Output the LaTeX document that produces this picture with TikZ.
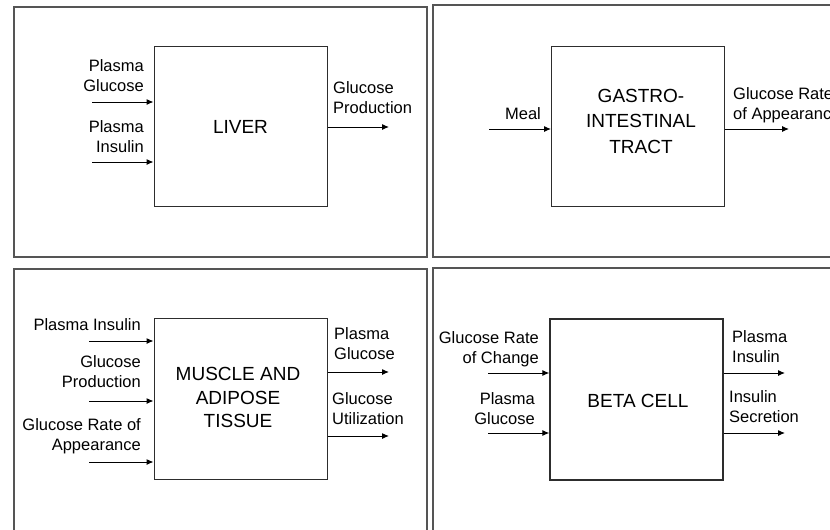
\documentclass[tikz,border=0pt]{standalone}
\usepackage{fontspec}
\setmainfont{Liberation Sans}
\usetikzlibrary{arrows.meta,positioning}
\definecolor{FrameGray}{RGB}{85,85,85}
\definecolor{BoxGray}{RGB}{45,45,45}

\begin{document}
\begin{tikzpicture}[x=1pt,y=-1pt,>={Latex[length=7pt,width=6pt]},
  frm/.style={draw=FrameGray,line width=1.5pt},
  blk/.style={draw=BoxGray,line width=1pt,minimum width=173pt,minimum height=160pt,
    inner sep=0pt,align=center,font=\fontsize{19}{23}\selectfont},
  lbl/.style={inner sep=0pt,font=\fontsize{16.5}{20}\selectfont},
  sig/.style={->,line width=1pt}]
  \useasboundingbox (0,0) rectangle (830,530);
  \clip (0,0) rectangle (830,530);
  % the four panels
  \draw[frm] (14,7) rectangle (427,257);
  \draw[frm] (433,5) rectangle (845,257);
  \draw[frm] (14,269) rectangle (427,545);
  \draw[frm] (433,268) rectangle (845,545);

  % liver
  \node[blk] (liver) at (240.5,126.5) {LIVER};
  \coordinate (lvA) at (92,102);
  \coordinate (lvB) at (92,162);
  \coordinate (lvOut) at (389,127);
  \foreach \c in {lvA,lvB}{\draw[sig] (\c) -- (\c -| liver.west);}
  \draw[sig] (lvOut -| liver.east) -- (lvOut);
  \node[lbl,align=right,anchor=east] (lvGlu) at (144,75.5) {Plasma\\Glucose};
  \node[lbl,align=right,anchor=east] (lvIns) at (144,137) {Plasma\\Insulin};
  \node[lbl,align=left,anchor=west] (lvProd) at (333,98) {Glucose\\Production};

  % gastro-intestinal tract
  \node[blk] (gut) at (638,126) {};
  \node[font=\fontsize{19}{25.5}\selectfont,align=center] (gutTxt) at (641,121) {GASTRO-\\INTESTINAL\\TRACT};
  \coordinate (gtIn) at (489,129);
  \coordinate (gtOut) at (789,129);
  \draw[sig] (gtIn) -- (gtIn -| gut.west);
  \draw[sig] (gtOut -| gut.east) -- (gtOut);
  \node[lbl] (meal) at (523,114) {Meal};
  \node[lbl,align=left,anchor=west] (gtRa) at (733,105) {Glucose Rate\\of Appearance};

  % muscle and adipose tissue
  \node[blk,minimum height=161pt] (tissue) at (240.5,398.5) {};
  \node[font=\fontsize{19}{23.5}\selectfont,align=center] (tisTxt) at (238,397.5) {MUSCLE AND\\ADIPOSE\\TISSUE};
  \coordinate (tsA) at (89,341);
  \coordinate (tsB) at (89,401);
  \coordinate (tsC) at (89,462);
  \coordinate (tsOutA) at (389,372);
  \coordinate (tsOutB) at (389,436);
  \foreach \c in {tsA,tsB,tsC}{\draw[sig] (\c) -- (\c -| tissue.west);}
  \foreach \c in {tsOutA,tsOutB}{\draw[sig] (\c -| tissue.east) -- (\c);}
  \node[lbl,anchor=east] (tsIns) at (141,325) {Plasma Insulin};
  \node[lbl,align=right,anchor=east] (tsProd) at (141,372) {Glucose\\Production};
  \node[lbl,align=right,anchor=east] (tsRa) at (141,436) {Glucose Rate of\\Appearance};
  \node[lbl,align=left,anchor=west] (tsGlu) at (334,344) {Plasma\\Glucose};
  \node[lbl,align=left,anchor=west] (tsUtil) at (332,409) {Glucose\\Utilization};

  % beta cell
  \node[blk,minimum height=161pt,line width=1.3pt] (beta) at (636.5,399.5) {};
  \node[font=\fontsize{19}{23}\selectfont] (betaTxt) at (638,401) {BETA CELL};
  \coordinate (bcA) at (488,373);
  \coordinate (bcB) at (488,433);
  \coordinate (bcOutA) at (785,373);
  \coordinate (bcOutB) at (785,433);
  \foreach \c in {bcA,bcB}{\draw[sig] (\c) -- (\c -| beta.west);}
  \foreach \c in {bcOutA,bcOutB}{\draw[sig] (\c -| beta.east) -- (\c);}
  \node[lbl,align=right,anchor=east] (bcRc) at (539,349) {Glucose Rate\\of Change};
  \node[lbl,align=right,anchor=east] (bcGlu) at (535,409) {Plasma\\Glucose};
  \node[lbl,align=left,anchor=west] (bcIns) at (732,347) {Plasma\\Insulin};
  \node[lbl,align=left,anchor=west] (bcSec) at (729,407) {Insulin\\Secretion};
\end{tikzpicture}
\end{document}
